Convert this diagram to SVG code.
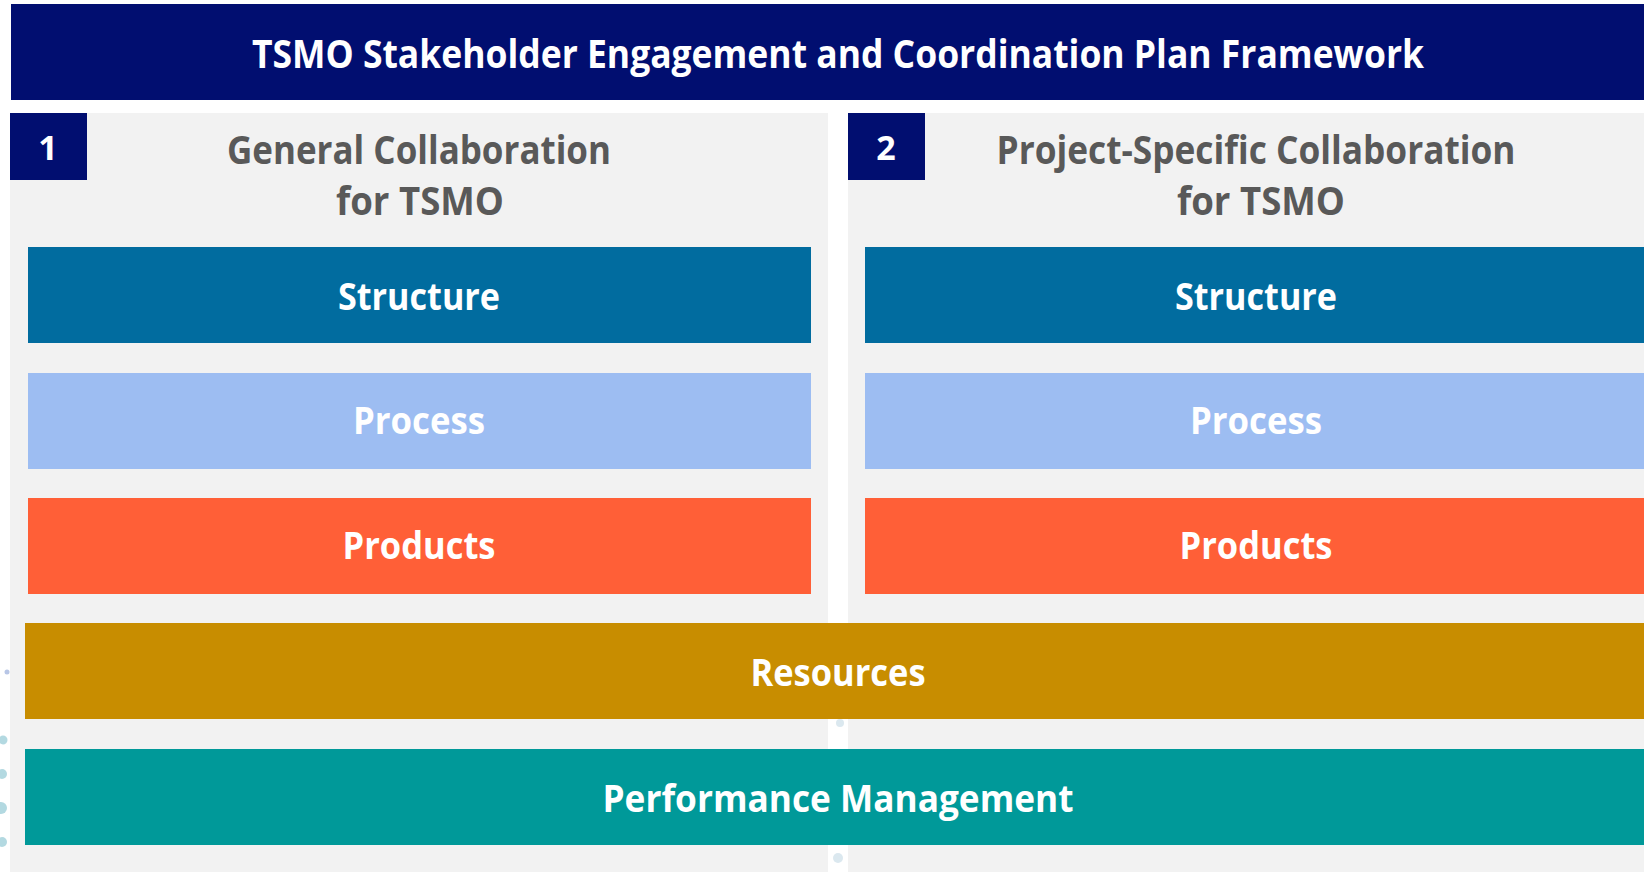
<svg xmlns="http://www.w3.org/2000/svg" width="1644" height="872" viewBox="0 0 1644 872">
<style>
text{font-family:"Open Sans","Noto Sans","Liberation Sans",sans-serif;font-weight:700;text-anchor:middle}
.w{fill:#ffffff}
.h{fill:#595959;font-size:39px}
.lbl{font-size:38px}
.panel{fill:#f2f2f2}
.badge{fill:#010e70}
.dotL{fill:#b3d9e1}
</style>
<rect x="0" y="0" width="1644" height="872" fill="#ffffff"/>
<g id="title">
<rect x="11" y="4" width="1633" height="96" fill="#010e70"/>
<text class="w" x="838" y="68" font-size="40" textLength="1172" lengthAdjust="spacingAndGlyphs">TSMO Stakeholder Engagement and Coordination Plan Framework</text>
</g>
<g id="panel1">
<rect class="panel" x="10" y="113" width="818" height="759"/>
<rect class="badge" x="10" y="113" width="77" height="67"/>
<text class="w" x="48" y="160" font-size="34">1</text>
<text class="h" x="419" y="164" textLength="384" lengthAdjust="spacingAndGlyphs">General Collaboration</text>
<text class="h" x="420" y="215" textLength="168" lengthAdjust="spacingAndGlyphs">for TSMO</text>
</g>
<g id="panel2">
<rect class="panel" x="848" y="113" width="796" height="759"/>
<rect class="badge" x="848" y="113" width="77" height="67"/>
<text class="w" x="886" y="160" font-size="34">2</text>
<text class="h" x="1256" y="164" textLength="519" lengthAdjust="spacingAndGlyphs">Project-Specific Collaboration</text>
<text class="h" x="1261" y="215" textLength="168" lengthAdjust="spacingAndGlyphs">for TSMO</text>
</g>
<g id="dots">
<circle cx="7" cy="672" r="2.5" fill="#b8c6e6"/>
<circle cx="3" cy="740" r="4.5" class="dotL"/>
<circle cx="2" cy="774" r="5" class="dotL"/>
<circle cx="1" cy="808" r="6" class="dotL"/>
<circle cx="2" cy="842" r="5" class="dotL"/>
<circle cx="840" cy="723" r="4" fill="#dbe8ef"/>
<circle cx="838" cy="858" r="5" fill="#dbe8ef"/>
</g>
<g id="structure1">
<rect x="28" y="247" width="783" height="96" fill="#016c9f"/>
<text class="w lbl" x="419" y="310" textLength="162" lengthAdjust="spacingAndGlyphs">Structure</text>
</g>
<g id="process1">
<rect x="28" y="373" width="783" height="96" fill="#9dbdf2"/>
<text class="w lbl" x="419" y="434" textLength="132" lengthAdjust="spacingAndGlyphs">Process</text>
</g>
<g id="products1">
<rect x="28" y="498" width="783" height="96" fill="#ff5f37"/>
<text class="w lbl" x="419" y="559" textLength="153" lengthAdjust="spacingAndGlyphs">Products</text>
</g>
<g id="structure2">
<rect x="865" y="247" width="779" height="96" fill="#016c9f"/>
<text class="w lbl" x="1256" y="310" textLength="162" lengthAdjust="spacingAndGlyphs">Structure</text>
</g>
<g id="process2">
<rect x="865" y="373" width="779" height="96" fill="#9dbdf2"/>
<text class="w lbl" x="1256" y="434" textLength="132" lengthAdjust="spacingAndGlyphs">Process</text>
</g>
<g id="products2">
<rect x="865" y="498" width="779" height="96" fill="#ff5f37"/>
<text class="w lbl" x="1256" y="559" textLength="153" lengthAdjust="spacingAndGlyphs">Products</text>
</g>
<g id="resources">
<rect x="25" y="623" width="1619" height="96" fill="#c88d00"/>
<text class="w lbl" x="838" y="686" textLength="175" lengthAdjust="spacingAndGlyphs">Resources</text>
</g>
<g id="performance">
<rect x="25" y="749" width="1619" height="96" fill="#009999"/>
<text class="w lbl" x="838" y="812" textLength="471" lengthAdjust="spacingAndGlyphs">Performance Management</text>
</g>
<g id="connectors"></g>
</svg>
